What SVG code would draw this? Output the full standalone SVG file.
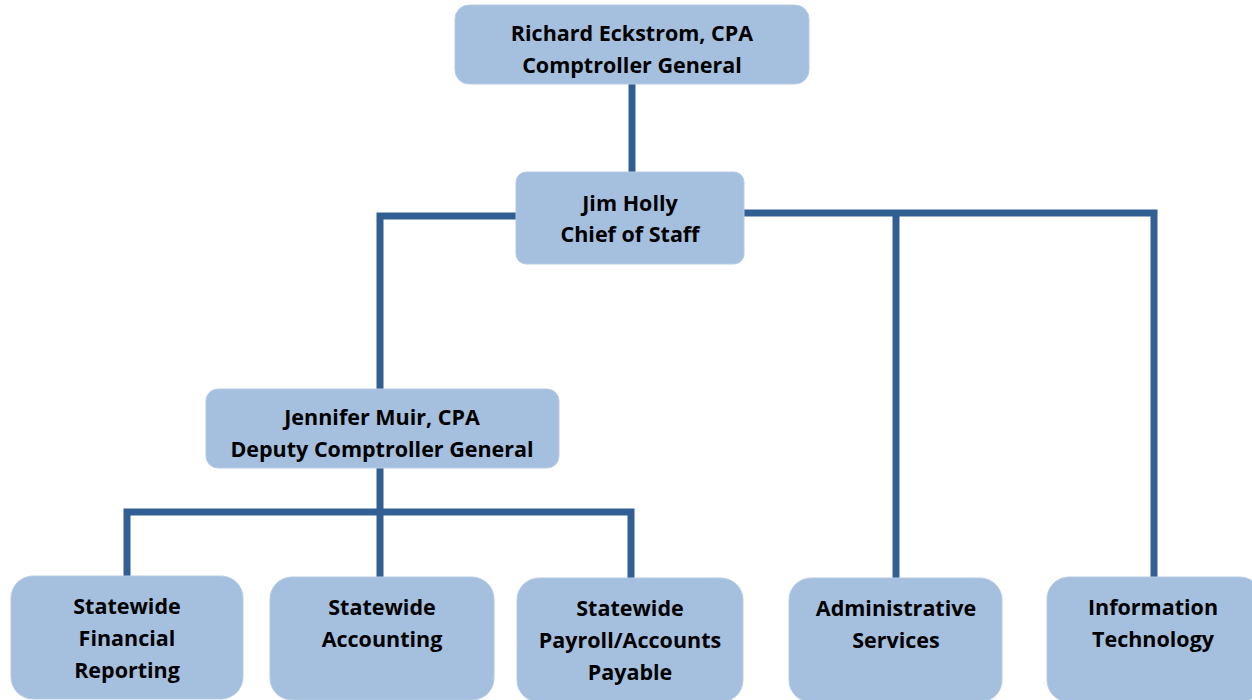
<svg xmlns="http://www.w3.org/2000/svg" width="1252" height="700" viewBox="0 0 1252 700">
<style>
.box{fill:#A5BFDE;stroke:#B7CCE5;stroke-width:1}
.t{font-family:"Open Sans","Liberation Sans",sans-serif;font-weight:700;font-size:21.5px;fill:#000;text-anchor:middle}
.c{fill:none;stroke:#325F93;stroke-width:7;stroke-linecap:butt;stroke-linejoin:miter}
</style>
<rect width="1252" height="700" fill="#fff"/>
<g id="connectors">
<path class="c" d="M632 84V172"/>
<path class="c" d="M516 216H380V389"/>
<path class="c" d="M744 213H1154V578"/>
<path class="c" d="M896 213V578"/>
<path class="c" d="M380 468V578"/>
<path class="c" d="M127 577V512H631V579"/>
</g>
<g id="n-eckstrom">
<rect class="box" x="455" y="5" width="354" height="79" rx="14"/>
<text class="t" x="632" y="41">Richard Eckstrom, CPA</text>
<text class="t" x="632" y="73">Comptroller General</text>
</g>
<g id="n-holly">
<rect class="box" x="516" y="172" width="228" height="92" rx="10"/>
<text class="t" x="630" y="211">Jim Holly</text>
<text class="t" x="630" y="242">Chief of Staff</text>
</g>
<g id="n-muir">
<rect class="box" x="206" y="389" width="353" height="79" rx="12"/>
<text class="t" x="382" y="425">Jennifer Muir, CPA</text>
<text class="t" x="382" y="457">Deputy Comptroller General</text>
</g>
<g id="n-sfr">
<rect class="box" x="11" y="576" width="232" height="123" rx="22"/>
<text class="t" x="127" y="614">Statewide</text>
<text class="t" x="127" y="646">Financial</text>
<text class="t" x="127" y="678">Reporting</text>
</g>
<g id="n-sa">
<rect class="box" x="270" y="577" width="224" height="123" rx="22"/>
<text class="t" x="382" y="615">Statewide</text>
<text class="t" x="382" y="647">Accounting</text>
</g>
<g id="n-sp">
<rect class="box" x="517" y="578" width="226" height="124" rx="22"/>
<text class="t" x="630" y="616">Statewide</text>
<text class="t" x="630" y="648">Payroll/Accounts</text>
<text class="t" x="630" y="680">Payable</text>
</g>
<g id="n-as">
<rect class="box" x="789" y="578" width="213" height="124" rx="22"/>
<text class="t" x="896" y="616">Administrative</text>
<text class="t" x="896" y="648">Services</text>
</g>
<g id="n-it">
<rect class="box" x="1047" y="577" width="215" height="125" rx="22"/>
<text class="t" x="1153" y="615">Information</text>
<text class="t" x="1153" y="647">Technology</text>
</g>
</svg>
